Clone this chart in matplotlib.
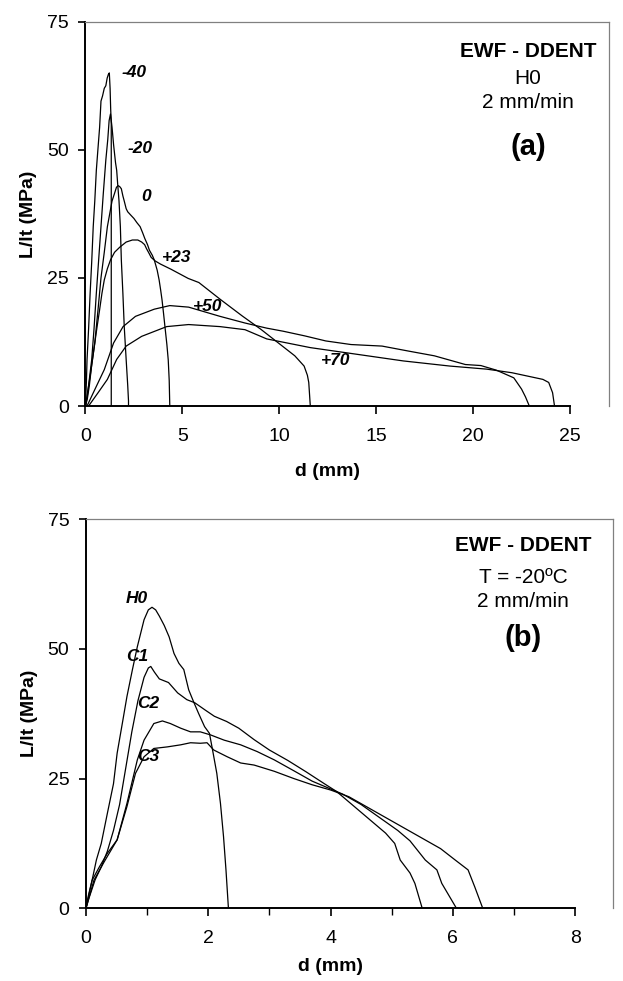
import matplotlib
matplotlib.use("Agg")
import matplotlib.pyplot as plt
from matplotlib.ticker import MultipleLocator

plt.rcParams['font.family'] = ['Liberation Sans', 'DejaVu Sans']

# ---------------- (a) H0, different temperatures ----------------
d_m40 = [0, 0.05, 0.08, 0.16, 0.24, 0.32, 0.40, 0.48, 0.56, 0.64, 0.73, 0.80, 0.88, 0.97, 1.05, 1.12, 1.18, 1.23, 1.27, 1.30, 1.33, 1.33]
L_m40 = [0, 5, 9, 15, 22, 28, 35, 40, 46, 50, 54.4, 59.5, 60.5, 62, 62.5, 64, 64.7, 65, 62, 58, 55, 0]

d_m20 = [0, 0.08, 0.16, 0.24, 0.32, 0.44, 0.56, 0.68, 0.80, 0.92, 1.05, 1.15, 1.22, 1.29, 1.37, 1.45, 1.55, 1.61, 1.66, 1.73, 1.80, 1.85, 1.93, 2.00, 2.10, 2.18, 2.22, 2.22]
L_m20 = [0, 1.5, 4, 6.5, 9, 15, 22, 28.5, 35, 41.5, 48, 52, 55.7, 57, 54.4, 51, 47.5, 46, 43.4, 40, 35, 28.5, 22, 15.5, 9, 4, 1, 0]

d_0 = [0, 0.10, 0.20, 0.32, 0.48, 0.64, 0.80, 0.97, 1.13, 1.25, 1.37, 1.50, 1.60, 1.69, 1.77, 1.85, 1.93, 2.00, 2.10, 2.18, 2.35, 2.50, 2.65, 2.82, 2.95, 3.06, 3.20, 3.30, 3.45, 3.55, 3.70, 3.80, 3.88, 3.95, 4.03, 4.10, 4.20, 4.27, 4.32, 4.35]
L_0 = [0, 1.5, 4, 8, 12.3, 18.5, 25, 30, 35, 37.5, 40, 41.5, 42.7, 43, 42.8, 42.4, 41, 40, 38.5, 37.9, 37.2, 36.6, 35.8, 35, 33.8, 32.7, 31.5, 30.4, 29.4, 28.5, 26.5, 24.6, 22.6, 20.7, 18, 15.5, 12, 9, 5, 0]

d_p23 = [0, 0.10, 0.24, 0.36, 0.48, 0.60, 0.73, 0.85, 0.97, 1.13, 1.29, 1.50, 1.77, 2.10, 2.42, 2.70, 2.90, 3.05, 3.15, 3.28, 3.39, 3.60, 3.87, 4.41, 5.30, 5.85, 6.96, 8.08, 9.04, 9.92, 10.80, 11.28, 11.45, 11.52, 11.60]
L_p23 = [0, 2.5, 5.8, 9, 12.3, 15.5, 18.8, 22, 24.6, 26.8, 28.5, 30, 31, 32, 32.4, 32.4, 32, 31.5, 30.7, 29.8, 29, 28.3, 27.7, 26.7, 24.9, 24.1, 20.8, 17.6, 15, 12.4, 9.8, 7.8, 6, 4.6, 0]

d_p50 = [0.08, 0.48, 0.97, 1.45, 1.94, 2.58, 3.55, 4.35, 5.32, 6.94, 8.23, 9.35, 10.2, 11.3, 12.4, 13.7, 15.3, 16.7, 18.0, 19.6, 20.4, 21.2, 22.1, 22.5, 22.7, 22.9]
L_p50 = [0, 3.2, 7.1, 12.3, 15.5, 17.5, 18.9, 19.6, 19.3, 17.5, 16.2, 15.2, 14.6, 13.7, 12.7, 12.0, 11.7, 10.7, 9.8, 8.1, 7.9, 7.0, 5.5, 3.3, 1.8, 0]

d_p70 = [0.16, 0.65, 1.13, 1.61, 2.10, 2.90, 4.19, 5.32, 6.94, 8.23, 9.35, 11.6, 14.0, 16.4, 18.8, 20.7, 22.0, 23.6, 23.9, 24.1, 24.2]
L_p70 = [0, 2.6, 5.2, 9.1, 11.7, 13.6, 15.5, 15.9, 15.5, 14.9, 13.1, 11.4, 10.1, 8.8, 7.8, 7.2, 6.5, 5.2, 4.6, 2.6, 0]

temps_a = ["-40", "-20", "0", "+23", "+50", "+70"]
label_d_a = [1.85, 2.18, 2.9, 3.95, 5.56, 12.16]
label_L_a = [65.0, 50.2, 40.8, 29.0, 19.5, 8.8]

# ---------------- (b) T = -20 ºC, different materials ----------------
d_H0 = [0, 0.04, 0.10, 0.17, 0.25, 0.35, 0.45, 0.51, 0.60, 0.67, 0.76, 0.84, 0.95, 1.02, 1.08, 1.14, 1.20, 1.28, 1.36, 1.44, 1.52, 1.60, 1.68, 1.76, 1.84, 1.94, 2.02, 2.08, 2.14, 2.20, 2.25, 2.29, 2.33]
L_H0 = [0, 2.5, 5.4, 9.3, 12.5, 18.3, 24, 29.9, 36, 40.8, 46, 50.4, 55.6, 57.5, 58, 57.5, 56.3, 54.5, 52.3, 49.1, 47.2, 46, 42.1, 39.8, 37.6, 35, 33.7, 29.9, 26, 20.2, 13.8, 7.4, 0]

d_C1 = [0, 0.05, 0.15, 0.25, 0.35, 0.45, 0.55, 0.65, 0.75, 0.85, 0.95, 1.02, 1.06, 1.12, 1.20, 1.35, 1.50, 1.65, 1.78, 1.95, 2.10, 2.30, 2.50, 2.75, 3.00, 3.30, 3.60, 3.90, 4.10, 4.30, 4.50, 4.70, 4.90, 5.05, 5.14, 5.30, 5.38, 5.50]
L_C1 = [0, 2, 5.5, 8, 11, 15, 20, 27, 34, 40, 44.5, 46.3, 46.6, 45.5, 44.2, 43.5, 41.5, 40.2, 39.6, 38.2, 37, 36, 34.7, 32.5, 30.5, 28.5, 26.3, 24, 22.5, 20.5, 18.5, 16.5, 14.5, 12.5, 9.3, 6.8, 4.8, 0]

d_C2 = [0, 0.10, 0.22, 0.35, 0.51, 0.67, 0.84, 0.95, 1.11, 1.25, 1.38, 1.55, 1.71, 1.87, 2.04, 2.26, 2.53, 2.80, 3.08, 3.40, 3.70, 4.00, 4.20, 4.50, 4.80, 5.10, 5.30, 5.55, 5.74, 5.82, 6.06]
L_C2 = [0, 5.4, 8, 10.6, 13.2, 20.2, 28.6, 32.4, 35.6, 36.1, 35.6, 34.7, 34, 34, 33.4, 32.4, 31.5, 30.2, 28.6, 26.5, 24.5, 23, 22, 20, 17.5, 15, 13, 9.3, 7.4, 4.8, 0]

d_C3 = [0, 0.13, 0.30, 0.51, 0.67, 0.81, 0.95, 1.11, 1.33, 1.55, 1.71, 1.87, 1.98, 2.09, 2.31, 2.53, 2.75, 3.08, 3.40, 3.70, 4.00, 4.30, 4.60, 4.90, 5.20, 5.50, 5.80, 6.04, 6.25, 6.36, 6.49]
L_C3 = [0, 5.4, 9, 13.2, 19.6, 26, 29.2, 30.8, 31.1, 31.5, 31.9, 31.8, 31.9, 30.5, 29.2, 28, 27.6, 26.4, 25, 23.8, 22.8, 21.5, 19.5, 17.5, 15.5, 13.5, 11.5, 9.3, 7.4, 4.1, 0]

mats_b = ["H0", "C1", "C2", "C3"]
label_d_b = [0.65, 0.66, 0.84, 0.84]
label_L_b = [59.7, 48.5, 39.5, 29.2]

LINE = dict(color="black", lw=0.9)
GRAY = "#808080"
TICK_FS = 14
LAB_FS = 14
CURVE_FS = 12.5


def style_axes(ax, xmax_tick, xmax_box, ymax=75):
    ax.set_xlim(0, xmax_box)
    ax.set_ylim(0, ymax)
    ax.set_yticks([0, 25, 50, 75])
    for side in ("left", "bottom"):
        ax.spines[side].set_color("black")
        ax.spines[side].set_linewidth(1.4)
    ax.spines["bottom"].set_bounds(0, xmax_tick)
    for side in ("top", "right"):
        ax.spines[side].set_color(GRAY)
        ax.spines[side].set_linewidth(0.9)
    ax.tick_params(axis="x", which="major", direction="out", length=6, width=1.2,
                   pad=9.5, labelsize=TICK_FS)
    ax.tick_params(axis="x", which="minor", direction="out", length=5, width=1.0)
    ax.tick_params(axis="y", which="major", direction="out", length=5, width=1.2,
                   pad=7, labelsize=TICK_FS)
    ax.tick_params(top=False, right=False)
    ax.set_xlabel("d (mm)", fontsize=LAB_FS, fontweight="bold")
    ax.set_ylabel("L/lt (MPa)", fontsize=LAB_FS, fontweight="bold")


fig = plt.figure(figsize=(6.23, 9.81), dpi=100)

# panel (a)
ax1 = fig.add_axes([0.1372, 0.5861, 0.8403, 0.3918])
for d, L in [(d_m40, L_m40), (d_m20, L_m20), (d_0, L_0),
             (d_p23, L_p23), (d_p50, L_p50), (d_p70, L_p70)]:
    ax1.plot(d, L, **LINE)
style_axes(ax1, 25, 27.01)
ax1.set_xticks([0, 5, 10, 15, 20, 25])
for t, x, y in zip(temps_a, label_d_a, label_L_a):
    ax1.text(x, y, t, fontsize=CURVE_FS, fontweight="bold", fontstyle="italic",
             ha="left", va="center")
ax1.xaxis.set_label_coords(12.5 / 27.01, -0.1715)
ax1.xaxis.label.set_va("center")
ax1.yaxis.set_label_coords(-0.108, 0.5)
ax1.yaxis.label.set_va("center")
cx = 0.8453
ax1.text(cx, 0.9237, "EWF - DDENT", transform=ax1.transAxes, fontsize=15,
         fontweight="bold", ha="center", va="center")
ax1.text(cx, 0.8509, "H0", transform=ax1.transAxes, fontsize=15, ha="center", va="center")
ax1.text(cx, 0.7909, "2 mm/min", transform=ax1.transAxes, fontsize=15, ha="center", va="center")
ax1.text(cx, 0.6740, "(a)", transform=ax1.transAxes, fontsize=21, fontweight="bold",
         ha="center", va="center")

# panel (b)
ax2 = fig.add_axes([0.1380, 0.0741, 0.8459, 0.3968])
for d, L in [(d_H0, L_H0), (d_C1, L_C1), (d_C2, L_C2), (d_C3, L_C3)]:
    ax2.plot(d, L, **LINE)
style_axes(ax2, 8, 8.62)
ax2.set_xticks([0, 2, 4, 6, 8])
ax2.set_xticks([1, 3, 5, 7], minor=True)
for t, x, y in zip(mats_b, label_d_b, label_L_b):
    ax2.text(x, y, t, fontsize=CURVE_FS, fontweight="bold", fontstyle="italic",
             ha="left", va="center")
ax2.xaxis.set_label_coords(4 / 8.62, -0.150)
ax2.xaxis.label.set_va("center")
ax2.yaxis.set_label_coords(-0.108, 0.5)
ax2.yaxis.label.set_va("center")
cx = 0.8293
ax2.text(cx, 0.9333, "EWF - DDENT", transform=ax2.transAxes, fontsize=15,
         fontweight="bold", ha="center", va="center")
ax2.text(cx, 0.8510, "T = -20ºC", transform=ax2.transAxes, fontsize=15, ha="center", va="center")
ax2.text(cx, 0.7894, "2 mm/min", transform=ax2.transAxes, fontsize=15, ha="center", va="center")
ax2.text(cx, 0.6943, "(b)", transform=ax2.transAxes, fontsize=21, fontweight="bold",
         ha="center", va="center")

fig.savefig("out.png", dpi=100)
